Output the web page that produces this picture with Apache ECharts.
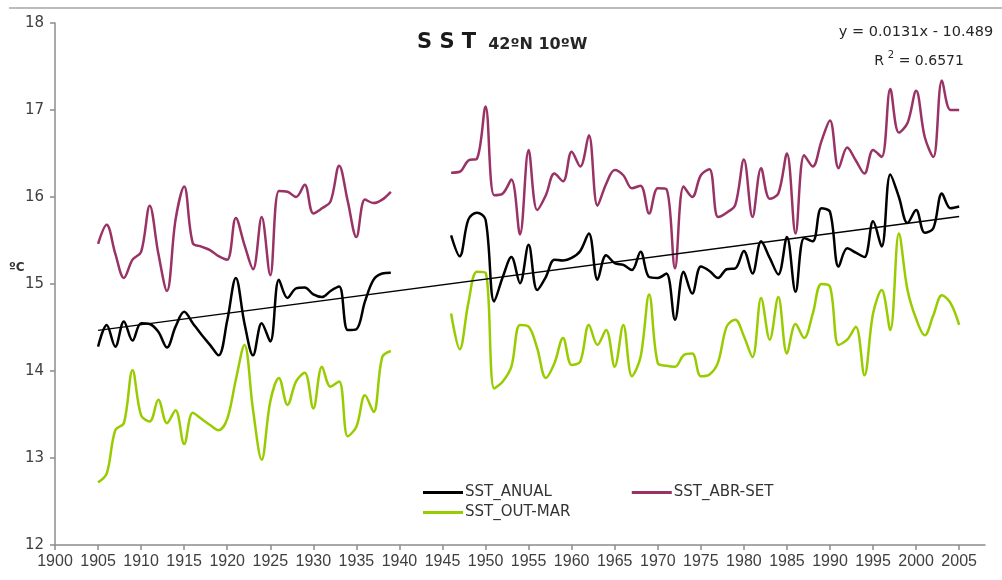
<!DOCTYPE html>
<html>
<head>
<meta charset="utf-8">
<script src="https://cdn.jsdelivr.net/npm/echarts@6/dist/echarts.min.js"></script>
<style>
  html, body { margin: 0; padding: 0; background: #fff; }
  #chart { width: 1002px; height: 580px; }
</style>
</head>
<body>
<div id="chart"></div>
<script>
// Sea surface temperature at 42ºN 10ºW, yearly means (ºC)
const yearsEarly = [1905,1906,1907,1908,1909,1910,1911,1912,1913,1914,1915,1916,1917,1918,1919,1920,1921,1922,1923,1924,1925,1926,1927,1928,1929,1930,1931,1932,1933,1934,1935,1936,1937,1938,1939];
const yearsLate = [1946,1947,1948,1949,1950,1951,1952,1953,1954,1955,1956,1957,1958,1959,1960,1961,1962,1963,1964,1965,1966,1967,1968,1969,1970,1971,1972,1973,1974,1975,1976,1977,1978,1979,1980,1981,1982,1983,1984,1985,1986,1987,1988,1989,1990,1991,1992,1993,1994,1995,1996,1997,1998,1999,2000,2001,2002,2003,2004,2005];

// Annual mean
const anualEarly = [14.28,14.53,14.28,14.57,14.35,14.55,14.54,14.45,14.27,14.51,14.68,14.55,14.42,14.30,14.18,14.58,15.07,14.55,14.18,14.55,14.34,15.05,14.84,14.95,14.96,14.88,14.85,14.92,14.97,14.47,14.48,14.80,15.05,15.12,15.13];
const anualLate = [15.56,15.32,15.74,15.82,15.74,14.80,15.08,15.31,15.01,15.45,14.93,15.08,15.28,15.27,15.30,15.38,15.58,15.05,15.33,15.24,15.22,15.16,15.37,15.08,15.07,15.12,14.59,15.14,14.89,15.20,15.15,15.07,15.17,15.18,15.38,15.12,15.49,15.30,15.11,15.54,14.91,15.53,15.49,15.87,15.83,15.20,15.41,15.36,15.31,15.72,15.43,16.26,16.00,15.70,15.85,15.59,15.64,16.04,15.87,15.89];

// April - September mean
const abrSetEarly = [15.46,15.68,15.35,15.07,15.28,15.37,15.90,15.35,14.92,15.74,16.12,15.47,15.43,15.39,15.32,15.28,15.76,15.45,15.17,15.77,15.10,16.07,16.06,16.00,16.14,15.81,15.87,15.95,16.36,15.95,15.54,15.97,15.93,15.97,16.06];
const abrSetLate = [16.28,16.29,16.42,16.44,17.04,16.02,16.04,16.20,15.57,16.54,15.85,16.02,16.27,16.18,16.52,16.35,16.71,15.90,16.15,16.31,16.25,16.10,16.13,15.81,16.10,16.09,15.18,16.12,16.00,16.25,16.32,15.77,15.82,15.91,16.43,15.77,16.33,15.98,16.04,16.50,15.58,16.48,16.35,16.64,16.88,16.33,16.57,16.42,16.27,16.54,16.46,17.24,16.74,16.85,17.22,16.69,16.46,17.34,17.00,17.00];

// October - March mean
const outMarEarly = [12.72,12.82,13.32,13.40,14.01,13.49,13.42,13.67,13.40,13.55,13.16,13.52,13.45,13.38,13.32,13.45,13.90,14.30,13.55,12.98,13.65,13.92,13.61,13.88,13.98,13.57,14.05,13.82,13.88,13.25,13.36,13.72,13.53,14.16,14.23];
const outMarLate = [14.66,14.25,14.78,15.14,15.13,13.80,13.88,14.05,14.53,14.51,14.26,13.92,14.09,14.38,14.07,14.11,14.53,14.30,14.47,14.05,14.53,13.94,14.16,14.88,14.09,14.06,14.05,14.18,14.20,13.94,13.96,14.10,14.51,14.59,14.40,14.16,14.84,14.36,14.85,14.20,14.54,14.38,14.66,15.00,14.97,14.30,14.36,14.51,13.95,14.66,14.93,14.47,15.58,14.93,14.60,14.41,14.64,14.87,14.78,14.53];

// Linear fit of the annual series
const trendSlope = 0.0131;
const trendIntercept = -10.489;
const trendR2 = 0.6571;
const trendYears = [1905, 2005];

const xTickLabels = [1900,1905,1910,1915,1920,1925,1930,1935,1940,1945,1950,1955,1960,1965,1970,1975,1980,1985,1990,1995,2000,2005];

// Join the two periods, leaving a break in between
function joinPeriods(early, late) {
  const out = yearsEarly.map((y, i) => [y, early[i]]);
  out.push([1942, null]);
  yearsLate.forEach((y, i) => out.push([y, late[i]]));
  return out;
}

const FONT = 'DejaVu Sans';
const COLORS = { anual: '#000000', abrSet: '#993366', outMar: '#99cc00' };

const chart = echarts.init(document.getElementById('chart'), null, { renderer: 'canvas' });

const lineSeries = (name, color, data) => ({
  name: name,
  type: 'line',
  data: data,
  smooth: 0.35,
  symbol: 'none',
  connectNulls: false,
  lineStyle: { color: color, width: 2.5 },
  itemStyle: { color: color },
  z: 3
});

const legendBase = {
  icon: 'rect',
  itemWidth: 40,
  itemHeight: 3,
  textStyle: { fontFamily: FONT, fontSize: 15, color: '#333333', padding: [0, 0, 0, -3] }
};

const option = {
  backgroundColor: '#ffffff',
  animation: false,
  title: {
    text: '{a|S S T}{b|42ºN 10ºW}',
    left: 412,
    top: 22,
    textStyle: {
      rich: {
        a: { fontFamily: FONT, fontWeight: 'bold', fontSize: 21, color: '#1a1a1a', verticalAlign: 'bottom', lineHeight: 26 },
        b: { fontFamily: FONT, fontWeight: 'bold', fontSize: 16, color: '#262626', verticalAlign: 'bottom', lineHeight: 24, padding: [0, 0, 0, 12] }
      }
    }
  },
  legend: [
    Object.assign({}, legendBase, {
      data: ['SST_ANUAL', 'SST_ABR-SET'],
      left: 418,
      top: 480,
      itemGap: 80
    }),
    Object.assign({}, legendBase, {
      data: ['SST_OUT-MAR'],
      left: 418,
      top: 500
    })
  ],
  grid: { left: 55, right: 17, top: 23, bottom: 35, containLabel: false },
  xAxis: {
    type: 'value',
    min: 1900,
    max: 2008,
    interval: 5,
    splitLine: { show: false },
    axisLine: { show: true, onZero: false, lineStyle: { color: '#8c8c8c', width: 1.5 } },
    axisTick: { show: true, length: 5, customValues: xTickLabels, lineStyle: { color: '#8c8c8c', width: 1.5 } },
    axisLabel: {
      customValues: xTickLabels,
      formatter: v => String(v),
      margin: 9,
      fontFamily: 'Liberation Sans',
      fontSize: 16,
      color: '#404040'
    }
  },
  yAxis: {
    type: 'value',
    min: 12,
    max: 18,
    interval: 1,
    splitLine: { show: false },
    axisLine: { show: true, lineStyle: { color: '#8c8c8c', width: 1.5 } },
    axisTick: { show: true, length: 5, lineStyle: { color: '#8c8c8c', width: 1.5 } },
    axisLabel: { margin: 11, fontFamily: FONT, fontSize: 15, color: '#404040' }
  },
  graphic: [
    {
      type: 'line',
      shape: { x1: 9, y1: 8, x2: 1002, y2: 8 },
      style: { stroke: '#a6a6a6', lineWidth: 1.5 },
      silent: true
    },
    {
      type: 'text',
      left: 9,
      top: 262,
      style: { text: 'ºC', fontFamily: FONT, fontSize: 12, fontWeight: 'bold', fill: '#333333' }
    },
    {
      type: 'text',
      x: 916,
      y: 25,
      style: {
        text: 'y = ' + trendSlope + 'x - ' + Math.abs(trendIntercept),
        fontFamily: FONT, fontSize: 14.5, fill: '#262626', align: 'center'
      }
    },
    {
      type: 'text',
      x: 919,
      y: 50,
      style: {
        text: '{r|R}{s|2}{r| = ' + trendR2 + '}',
        align: 'center',
        rich: {
          r: { fontFamily: FONT, fontSize: 14, fill: '#262626', verticalAlign: 'bottom', lineHeight: 18 },
          s: { fontFamily: FONT, fontSize: 10, fill: '#262626', verticalAlign: 'top', lineHeight: 18, padding: [0, 0, 0, 4] }
        }
      }
    }
  ],
  series: [
    lineSeries('SST_ANUAL', COLORS.anual, joinPeriods(anualEarly, anualLate)),
    lineSeries('SST_ABR-SET', COLORS.abrSet, joinPeriods(abrSetEarly, abrSetLate)),
    lineSeries('SST_OUT-MAR', COLORS.outMar, joinPeriods(outMarEarly, outMarLate)),
    {
      name: 'trend',
      type: 'line',
      data: trendYears.map(y => [y, trendSlope * y + trendIntercept]),
      symbol: 'none',
      lineStyle: { color: '#000000', width: 1.4 },
      z: 4,
      silent: true
    }
  ]
};

chart.setOption(option);
</script>
</body>
</html>
